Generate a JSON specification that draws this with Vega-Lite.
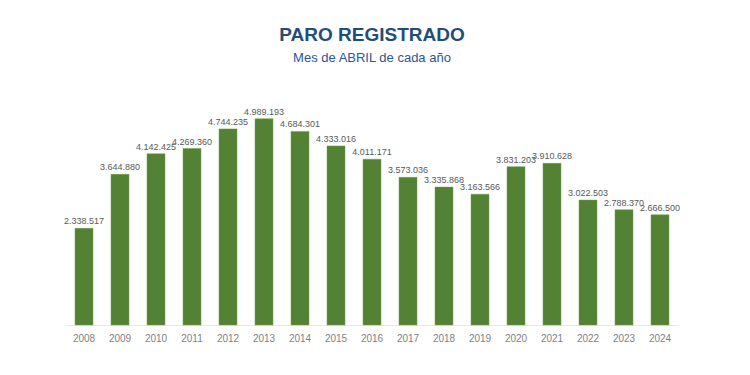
{
  "$schema": "https://vega.github.io/schema/vega-lite/v6.json",
  "width": 612,
  "height": 248,
  "autosize": "none",
  "padding": {"left": 66, "top": 77, "right": 72, "bottom": 50},
  "background": "white",
  "config": {
    "view": {"stroke": null},
    "locale": {"number": {"decimal": ",", "thousands": ".", "grouping": [3], "currency": ["", " €"]}},
    "font": "Liberation Sans"
  },
  "title": {
    "text": "PARO REGISTRADO",
    "subtitle": "Mes de ABRIL de cada año",
    "anchor": "middle",
    "fontSize": 19,
    "fontWeight": "bold",
    "color": "#1F4E79",
    "subtitleFontSize": 13,
    "subtitleColor": "#2F5597",
    "subtitlePadding": 7,
    "offset": 12
  },
  "data": {
    "values": [
      {"year": "2008", "value": 2338517},
      {"year": "2009", "value": 3644880},
      {"year": "2010", "value": 4142425},
      {"year": "2011", "value": 4269360},
      {"year": "2012", "value": 4744235},
      {"year": "2013", "value": 4989193},
      {"year": "2014", "value": 4684301},
      {"year": "2015", "value": 4333016},
      {"year": "2016", "value": 4011171},
      {"year": "2017", "value": 3573036},
      {"year": "2018", "value": 3335868},
      {"year": "2019", "value": 3163566},
      {"year": "2020", "value": 3831203},
      {"year": "2021", "value": 3910628},
      {"year": "2022", "value": 3022503},
      {"year": "2023", "value": 2788370},
      {"year": "2024", "value": 2666500}
    ]
  },
  "encoding": {
    "x": {
      "field": "year",
      "type": "ordinal",
      "scale": {"paddingInner": 0.5, "paddingOuter": 0.25},
      "axis": {
        "title": null,
        "labelAngle": 0,
        "labelColor": "#7F7F7F",
        "labelFontSize": 10,
        "labelPadding": 8,
        "ticks": false,
        "domainColor": "#E8E8E8",
        "domainWidth": 1
      }
    },
    "y": {
      "field": "value",
      "type": "quantitative",
      "scale": {"domain": [0, 6000000]},
      "axis": null
    }
  },
  "layer": [
    {"mark": {"type": "bar", "color": "#548235", "stroke": "#6E9E4A", "strokeWidth": 0.5}},
    {
      "mark": {"type": "text", "dy": -7, "fontSize": 9, "color": "#595959"},
      "encoding": {"text": {"field": "value", "type": "quantitative", "format": ",d"}}
    }
  ]
}
